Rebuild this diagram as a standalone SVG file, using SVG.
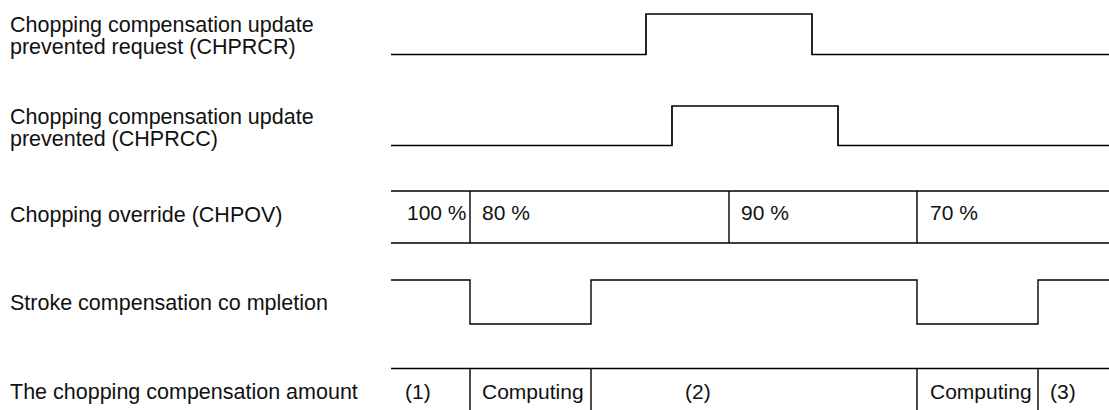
<svg xmlns="http://www.w3.org/2000/svg" width="1109" height="410" viewBox="0 0 1109 410">
<style>
text{font-family:"Liberation Sans",Arial,sans-serif;font-size:21px;fill:#111}
.lbl text{font-size:21.5px}
.sig{fill:none;stroke:#000;stroke-width:1.7}
.ln{fill:none;stroke:#000;stroke-width:1.4}
</style>
<rect width="1109" height="410" fill="#fff"/>
<g class="lbl">
<g id="label-chprcr"><text x="10" y="32">Chopping compensation update</text><text x="10" y="54">prevented request (CHPRCR)</text></g>
<g id="label-chprcc"><text x="10" y="124">Chopping compensation update</text><text x="10" y="146">prevented (CHPRCC)</text></g>
<g id="label-chpov"><text x="10" y="222">Chopping override (CHPOV)</text></g>
<g id="label-stroke"><text x="10" y="310">Stroke compensation co mpletion</text></g>
<g id="label-amount"><text x="10" y="399">The chopping compensation amount</text></g>
</g>
<g id="connectors">
<path class="sig" d="M391,54.5H646V14H812V54.5H1109"/>
<path class="sig" d="M391,145.5H672V106H838V145.5H1109"/>
<path class="ln" d="M391,191H1109M391,243H1109M470,191V243M729,191V243M917,191V243"/>
<path class="ln" d="M391,280H470V324H591V280H917V324H1038V280H1109"/>
<path class="ln" d="M391,368.5H1109M470,368.5V410M591,368.5V410M917,368.5V410M1038,368.5V410"/>
</g>
<g id="values">
<text x="407" y="220">100 %</text><text x="482" y="220">80 %</text><text x="741" y="220">90 %</text><text x="930" y="220">70 %</text>
<text x="405" y="399">(1)</text><text x="482" y="399">Computing</text><text x="685" y="399">(2)</text><text x="930" y="399">Computing</text><text x="1050" y="399">(3)</text>
</g>
</svg>
